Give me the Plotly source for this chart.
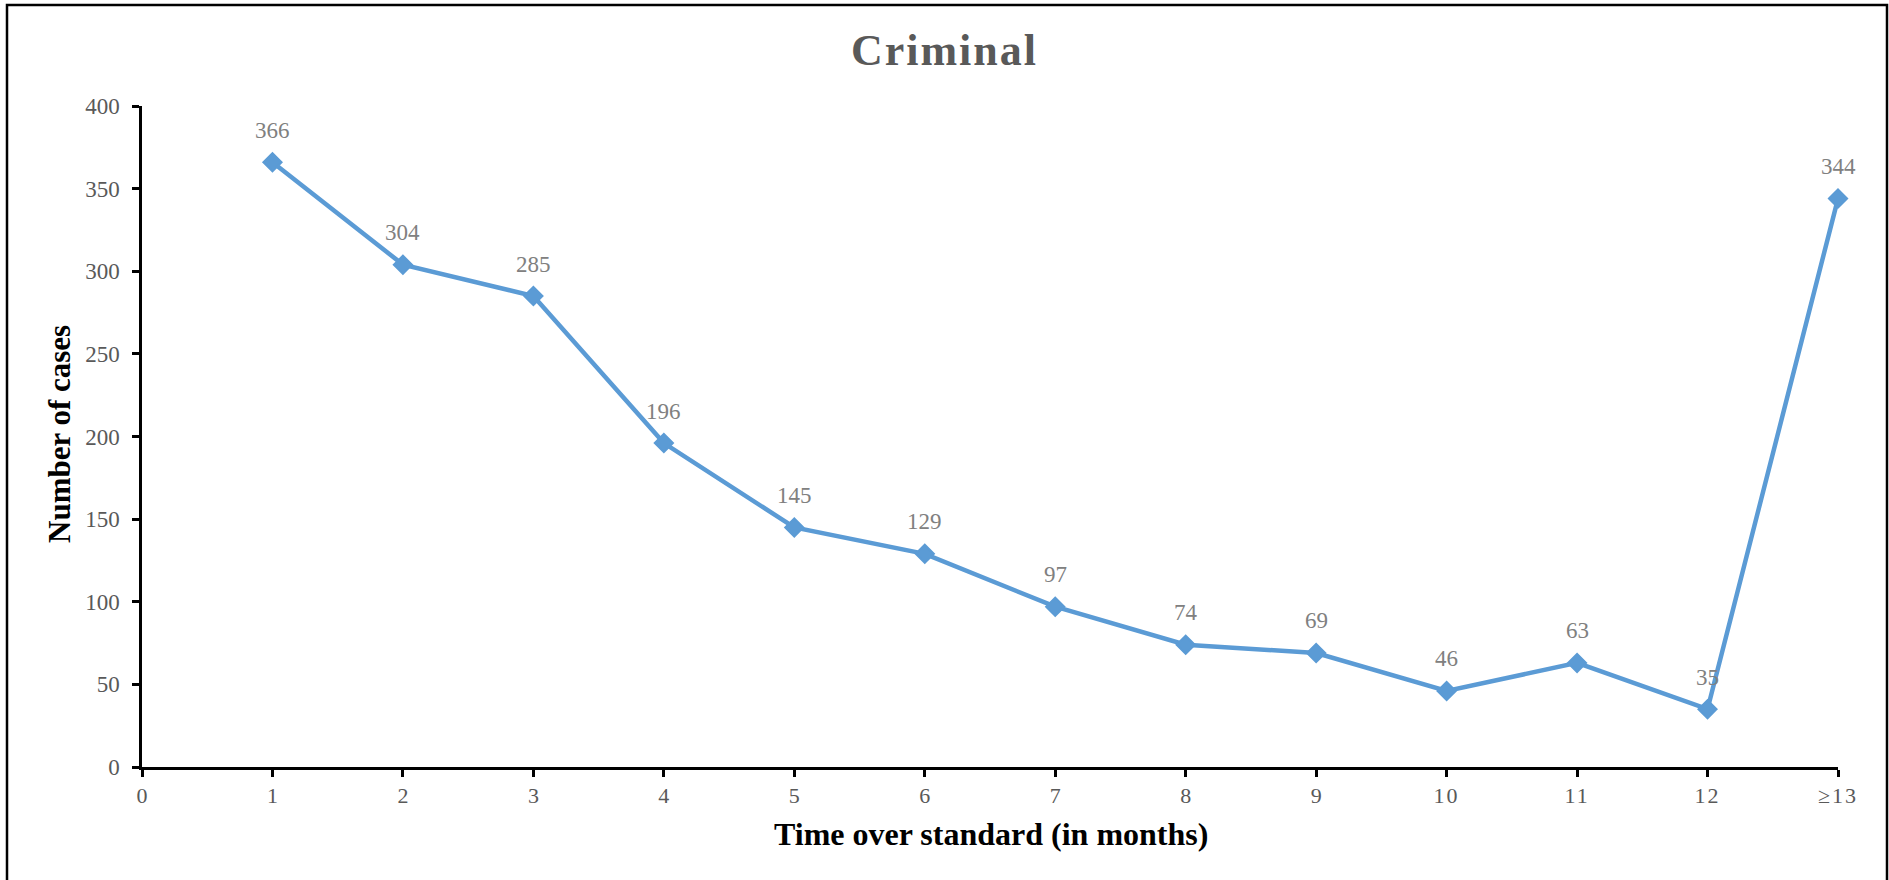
import plotly.graph_objects as go

# ---- data ----
months = [1, 2, 3, 4, 5, 6, 7, 8, 9, 10, 11, 12, 13]
cases = [366, 304, 285, 196, 145, 129, 97, 74, 69, 46, 63, 35, 344]
x_tick_vals = [0, 1, 2, 3, 4, 5, 6, 7, 8, 9, 10, 11, 12, 13]
x_tick_text = ["0", "1", "2", "3", "4", "5", "6", "7", "8", "9", "10", "11", "12", "≥13"]
y_tick_vals = [0, 50, 100, 150, 200, 250, 300, 350, 400]

FONT = "Liberation Serif, Times New Roman, serif"
LINE_COLOR = "#5B9BD5"

# plot area pixel geometry
W, H = 1889, 880
L, R, T, B = 142, 51, 106, 113
PW = W - L - R
PH = H - T - B


def px_x(p):
    return (p - L) / PW


def px_y(p):
    return (H - B - p) / PH


def spaced(s, sp):
    return f"<span style='letter-spacing:{sp}px'>{s}</span>"


fig = go.Figure()
fig.add_trace(go.Scatter(
    x=months, y=cases, mode="lines+markers",
    line=dict(color=LINE_COLOR, width=4.5),
    marker=dict(symbol="diamond", size=14, color=LINE_COLOR,
                line=dict(color=LINE_COLOR, width=2)),
    cliponaxis=False,
    hoverinfo="x+y", showlegend=False,
))

annotations = []
for xv, yv in zip(months, cases):
    annotations.append(dict(
        x=xv, y=yv, xref="x", yref="y", text=str(yv), showarrow=False,
        yshift=32, yanchor="middle", xanchor="center",
        font=dict(family=FONT, size=23, color="#808080"),
    ))

# axis titles
annotations.append(dict(
    x=px_x(59), y=px_y(434), xref="paper", yref="paper",
    text="<b>Number of cases</b>", textangle=-90, showarrow=False,
    xanchor="center", yanchor="middle",
    font=dict(family=FONT, size=31, color="#000000"),
))
annotations.append(dict(
    x=px_x(991), y=px_y(834), xref="paper", yref="paper",
    text="<b>Time over standard (in months)</b>", showarrow=False,
    xanchor="center", yanchor="middle",
    font=dict(family=FONT, size=32, color="#000000"),
))

tick_text = [spaced(t, 2) if len(t) > 1 else t for t in x_tick_text]

fig.update_layout(
    width=W, height=H,
    margin=dict(l=L, r=R, t=T, b=B, pad=0),
    paper_bgcolor="white", plot_bgcolor="white",
    title=dict(
        text="<b>" + spaced("Criminal", 2) + "</b>", x=0.5, xref="container", xanchor="center",
        y=1 - 50 / H, yref="container", yanchor="middle",
        font=dict(family=FONT, size=44, color="#595959"),
    ),
    annotations=annotations,
    shapes=[dict(
        type="rect", xref="paper", yref="paper",
        x0=px_x(7), x1=px_x(1887), y0=px_y(890), y1=px_y(5),
        line=dict(color="black", width=2.5), fillcolor="rgba(0,0,0,0)",
        layer="above",
    )],
    xaxis=dict(
        range=[0, 13], tickmode="array", tickvals=x_tick_vals, ticktext=tick_text,
        showgrid=False, zeroline=False, showline=True, linecolor="black", linewidth=2.5,
        ticks="outside", ticklen=7, tickwidth=2.5, tickcolor="black",
        tickfont=dict(family=FONT, size=22, color="#595959"),
        fixedrange=True,
    ),
    yaxis=dict(
        range=[0, 400], tickmode="array", tickvals=y_tick_vals,
        showgrid=False, zeroline=False, showline=True, linecolor="black", linewidth=2.5,
        ticks="outside", ticklen=7, tickwidth=2.5, tickcolor="black",
        ticklabelstandoff=8,
        tickfont=dict(family=FONT, size=23, color="#595959"),
        fixedrange=True,
    ),
)

fig.write_html("out.html", config={"displayModeBar": False},
               post_script="document.body.style.margin='0';")
